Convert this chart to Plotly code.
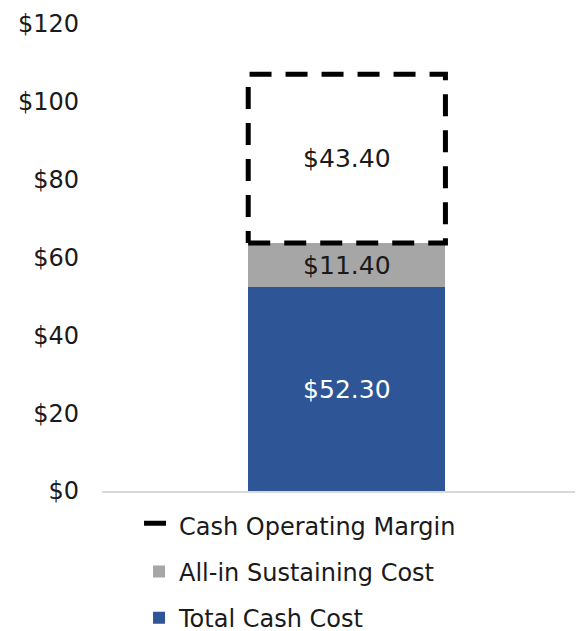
import plotly.graph_objects as go

# data
categories = [0]
total_cash_cost = [52.30]
all_in_sustaining = [11.40]
cash_margin = [43.40]
y_ticks = [0, 20, 40, 60, 80, 100, 120]
y_tick_labels = ["$" + str(v) for v in y_ticks]

BAR_W = 0.41
FONT = "DejaVu Sans, Arial, sans-serif"
TXT = "#1a1a1a"

fig = go.Figure()

fig.add_trace(go.Bar(
    x=categories, y=total_cash_cost, name="Total Cash Cost",
    marker=dict(color="#2e5596", line=dict(width=0)), width=BAR_W,
    texttemplate="$%{y:.2f}", textposition="inside", insidetextanchor="middle",
    textfont=dict(color="white", size=25, family=FONT),
    legendgroup="a", legendrank=3,
))
fig.add_trace(go.Bar(
    x=categories, y=all_in_sustaining, name="All-in Sustaining Cost",
    marker=dict(color="#a6a6a6", line=dict(width=0)), width=BAR_W,
    texttemplate="$%{y:.2f}", textposition="inside", insidetextanchor="middle",
    textfont=dict(color=TXT, size=25, family=FONT),
    legendgroup="b", legendrank=2,
))
fig.add_trace(go.Bar(
    x=categories, y=cash_margin, name="Cash Operating Margin",
    marker=dict(color="rgba(255,255,255,0)", line=dict(width=0)), width=BAR_W,
    texttemplate="$%{y:.2f}", textposition="inside", insidetextanchor="middle",
    textfont=dict(color=TXT, size=25, family=FONT),
    showlegend=False, legendgroup="c", legendrank=1,
))

# dashed outline round the margin segment, built from the data
base = total_cash_cost[0] + all_in_sustaining[0]
top = base + cash_margin[0]
c = categories[0]
h = BAR_W / 2
fig.add_trace(go.Scatter(
    x=[c - h, c + h, c + h, c - h, c - h],
    y=[base, base, top, top, base],
    mode="lines", fill="toself", fillcolor="rgba(0,0,0,0)",
    line=dict(color="black", width=5, dash="22px,14px"),
    name="Cash Operating Margin", legendgroup="c", legendrank=1,
    hoverinfo="skip",
))

# the page puts the plot 8px in from the top-left corner, so the figure is 8px smaller
fig.update_layout(
    barmode="stack",
    width=575, height=623,
    margin=dict(l=94, r=0, t=16, b=140, autoexpand=False),
    paper_bgcolor="white", plot_bgcolor="white",
    font=dict(family=FONT, size=20, color=TXT),
    showlegend=True,
    legend=dict(
        orientation="v", x=0.077, y=-0.026, xanchor="left", yanchor="top",
        traceorder="grouped", tracegroupgap=12,
        font=dict(size=24, family=FONT, color=TXT),
    ),
)
fig.update_xaxes(
    range=[-0.509, 0.491], showticklabels=False, showgrid=False,
    zeroline=False, showline=True, linecolor="#d9d9d9", linewidth=1.5,
    ticks="",
)
fig.update_yaxes(
    range=[0, 120], tickvals=y_ticks, ticktext=y_tick_labels,
    showgrid=False, zeroline=False, showline=False,
    ticklabelstandoff=22, tickfont=dict(size=24, family=FONT, color=TXT),
)

fig.write_html("out.html")
